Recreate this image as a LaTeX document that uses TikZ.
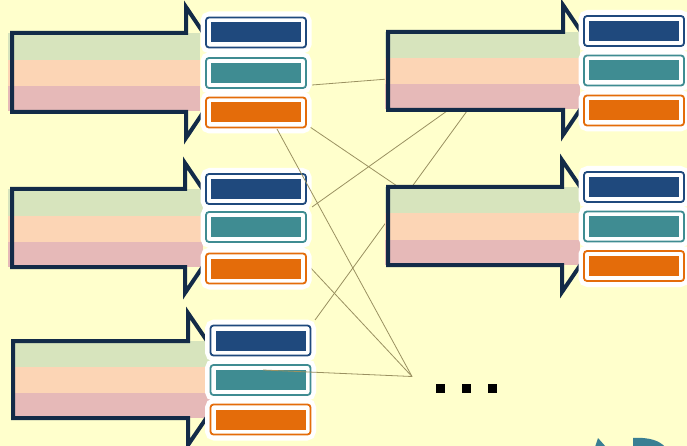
\documentclass[tikz,border=0pt]{standalone}
\usetikzlibrary{calc}
\definecolor{bgc}{HTML}{FFFFCC}
\definecolor{gband}{HTML}{D7E4BD}
\definecolor{pband}{HTML}{FCD5B5}
\definecolor{rband}{HTML}{E6B9B8}
\definecolor{navyc}{HTML}{132B48}
\definecolor{blueb}{HTML}{1F497D}
\definecolor{tealb}{HTML}{3F8C92}
\definecolor{orangeb}{HTML}{E46C0A}
\definecolor{linec}{HTML}{9A9161}
\definecolor{iconc}{HTML}{3A7F93}
\begin{document}
\begin{tikzpicture}[x=1pt,y=-1pt,
  gfill/.style={fill=gband},
  pfill/.style={fill=pband},
  rfill/.style={fill=rband},
  outl/.style={draw=navyc,line width=4pt,line join=miter},
  halo/.style={draw=white,fill=white,line width=11pt,rounded corners=4pt},
  cbox/.style={rounded corners=3pt,draw=#1,line width=1.8pt,fill=white,
    minimum width=100pt,minimum height=30pt,inner sep=0pt,
    path picture={\fill[#1,sharp corners] ($(path picture bounding box.north west)+(5.2pt,-5pt)$)
      rectangle ($(path picture bounding box.south east)+(-5pt,5pt)$);}},
  link/.style={draw=linec,line width=0.8pt},
  dotsq/.style={fill=black}]
\fill[bgc] (0,0) rectangle (687,446);
\useasboundingbox (0,0) rectangle (687,446);

% box positions
\coordinate (p1a) at (256,32.5);   \coordinate (p1b) at (256,73);    \coordinate (p1c) at (256,112.5);
\coordinate (p2a) at (634,31);     \coordinate (p2b) at (634,70.5);  \coordinate (p2c) at (634,110.5);
\coordinate (p3a) at (256,189);    \coordinate (p3b) at (256,227);   \coordinate (p3c) at (256,268.5);
\coordinate (p4a) at (634,187);    \coordinate (p4b) at (634,226.5); \coordinate (p4c) at (634,266);
\coordinate (p5a) at (260.5,340.5);\coordinate (p5b) at (260.5,380); \coordinate (p5c) at (260.5,419.5);

% connector end points
\coordinate (hub) at (412,376.5);
\coordinate (l1a) at (312,85);   \coordinate (l1b) at (388,79);
\coordinate (l2a) at (310,127);  \coordinate (l2b) at (400,188);
\coordinate (l4a) at (447,111);  \coordinate (l4b) at (312,207);
\coordinate (l5a) at (467,111);  \coordinate (l5b) at (315,320);
\coordinate (l6a) at (308,265);
\coordinate (l3a) at (277,129);
\coordinate (l7a) at (263,370);

% connectors behind
\draw[link] (l1a) -- (l1b);
\draw[link] (l2a) -- (l2b);
\draw[link] (l4a) -- (l4b);
\draw[link] (l5a) -- (l5b);
\draw[link] (l6a) -- (hub);

% group 1 arrow
\fill[gfill] (8,33) rectangle (200,60);
\fill[pfill] (8,60) rectangle (200,86);
\fill[rfill] (8,86) rectangle (200,111);
\draw[outl] (12,33) -- (186,33) -- (186,7) -- (230,72.5) -- (186,138) -- (186,112) -- (12,112) -- cycle;
% group 2 arrow
\fill[gfill] (385,32) rectangle (580,58);
\fill[pfill] (385,58) rectangle (580,84);
\fill[rfill] (385,84) rectangle (580,109);
\draw[outl] (388,32) -- (563,32) -- (563,5) -- (607,70) -- (563,135) -- (563,110) -- (388,110) -- cycle;
% group 3 arrow
\fill[gfill] (8,189) rectangle (203,216);
\fill[pfill] (8,216) rectangle (203,242);
\fill[rfill] (8,242) rectangle (203,267);
\draw[outl] (12,189) -- (185,189) -- (185,163) -- (229,228) -- (185,293) -- (185,267) -- (12,267) -- cycle;
% group 4 arrow
\fill[gfill] (385,187) rectangle (580,213);
\fill[pfill] (385,213) rectangle (580,240);
\fill[rfill] (385,240) rectangle (580,265);
\draw[outl] (388,187) -- (562,187) -- (562,160) -- (607,226) -- (562,292) -- (562,265) -- (388,265) -- cycle;
% group 5 arrow
\fill[gfill] (12,341) rectangle (210,367);
\fill[pfill] (12,367) rectangle (210,393);
\fill[rfill] (12,393) rectangle (210,418);
\draw[outl] (13,341) -- (188,341) -- (188,313) -- (233,379) -- (188,445) -- (188,418) -- (13,418) -- cycle;

% white halos behind the boxes
\foreach \p in {p1a,p1b,p1c,p2a,p2b,p2c,p3a,p3b,p3c,p4a,p4b,p4c,p5a,p5b,p5c}
  \draw[halo] ($(\p)+(-50,-15.5)$) rectangle ($(\p)+(50,15.5)$);

% boxes
\node[cbox=blueb]   (b1a) at (p1a) {};
\node[cbox=tealb]   (b1b) at (p1b) {};
\node[cbox=orangeb] (b1c) at (p1c) {};
\node[cbox=blueb]   (b2a) at (p2a) {};
\node[cbox=tealb]   (b2b) at (p2b) {};
\node[cbox=orangeb] (b2c) at (p2c) {};
\node[cbox=blueb]   (b3a) at (p3a) {};
\node[cbox=tealb]   (b3b) at (p3b) {};
\node[cbox=orangeb] (b3c) at (p3c) {};
\node[cbox=blueb]   (b4a) at (p4a) {};
\node[cbox=tealb]   (b4b) at (p4b) {};
\node[cbox=orangeb] (b4c) at (p4c) {};
\node[cbox=blueb]   (b5a) at (p5a) {};
\node[cbox=tealb]   (b5b) at (p5b) {};
\node[cbox=orangeb] (b5c) at (p5c) {};

% connectors on top
\draw[link] (l3a) -- (hub);
\draw[link] (l7a) -- (hub);

% dots
\fill[dotsq] (436,384) rectangle (445,393);
\fill[dotsq] (462,384) rectangle (471,393);
\fill[dotsq] (488,384) rectangle (497,393);

% partial icon at bottom right
\fill[iconc] (595,447) -- (598,438) -- (606,447) -- cycle;
\fill[iconc] (633,447) -- (633,438) .. controls (650,437) and (660,441) .. (665,447) -- cycle;
\end{tikzpicture}
\end{document}
